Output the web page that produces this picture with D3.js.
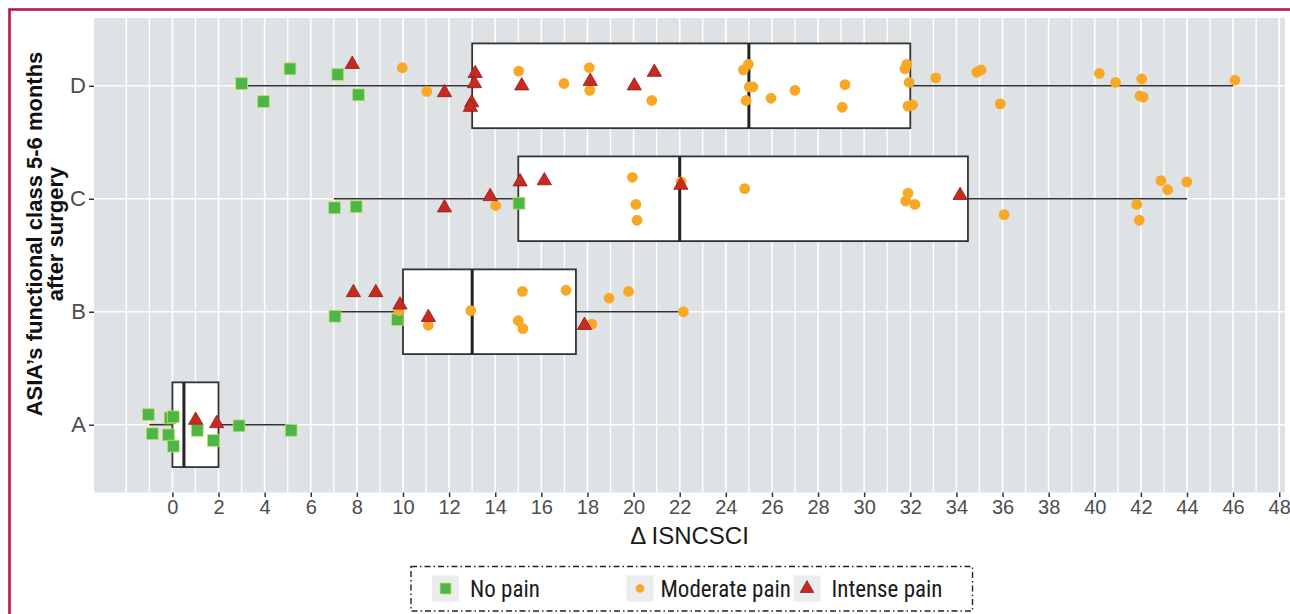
<!DOCTYPE html>
<html>
<head>
<meta charset="utf-8">
<script src="https://cdn.jsdelivr.net/npm/d3@7"></script>
<style>
  html, body { margin: 0; padding: 0; background: #fff; }
  svg { display: block; }
</style>
</head>
<body>
<script>
// categories, top to bottom
const classes = ['D', 'C', 'B', 'A'];

// box stats per class: [whiskerLo, q1, median, q3, whiskerHi]
const boxStats = {
  D: [3, 13, 25, 32, 46],
  C: [7, 15, 22, 34.5, 44],
  B: [7, 10, 13, 17.5, 22.1],
  A: [-1, 0, 0.5, 2, 5.1]
};

// points: [class, delta ISNCSCI, vertical jitter (fraction of category step)]
const noPain = [
  ['D', 3.0, -0.02], ['D', 3.95, 0.14], ['D', 5.1, -0.15], ['D', 7.17, -0.10], ['D', 8.07, 0.08],
  ['C', 7.03, 0.08], ['C', 7.97, 0.07], ['C', 15.03, 0.04],
  ['B', 7.05, 0.04], ['B', 9.76, 0.07],
  ['A', -1.04, -0.09], ['A', -0.1, -0.06], ['A', 0.04, -0.07], ['A', -0.87, 0.08], ['A', -0.17, 0.09],
  ['A', 0.04, 0.19], ['A', 1.08, 0.05], ['A', 1.78, 0.14], ['A', 2.89, 0.01], ['A', 5.15, 0.05]
];

const moderatePain = [
  ['D', 9.97, -0.16], ['D', 11.03, 0.05], ['D', 15.02, -0.13], ['D', 16.98, -0.02], ['D', 18.08, -0.16],
  ['D', 18.1, 0.04], ['D', 20.79, 0.13], ['D', 24.98, -0.19], ['D', 24.76, -0.14], ['D', 25.02, 0.01],
  ['D', 25.17, 0.01], ['D', 24.88, 0.13], ['D', 25.96, 0.11], ['D', 27.0, 0.04], ['D', 29.17, -0.01],
  ['D', 29.05, 0.19], ['D', 31.85, -0.19], ['D', 31.77, -0.15], ['D', 31.95, -0.03], ['D', 31.9, 0.18],
  ['D', 32.1, 0.17], ['D', 33.1, -0.07], ['D', 34.88, -0.12], ['D', 35.07, -0.14], ['D', 35.9, 0.16],
  ['D', 40.2, -0.11], ['D', 40.9, -0.03], ['D', 42.04, -0.06], ['D', 41.96, 0.09], ['D', 42.1, 0.10],
  ['D', 46.08, -0.05],
  ['C', 14.02, 0.06], ['C', 19.95, -0.19], ['C', 20.1, 0.05], ['C', 20.15, 0.19], ['C', 22.06, -0.15],
  ['C', 24.82, -0.09], ['C', 31.9, -0.05], ['C', 31.8, 0.02], ['C', 32.2, 0.05], ['C', 36.07, 0.14],
  ['C', 41.82, 0.05], ['C', 41.93, 0.19], ['C', 42.87, -0.16], ['C', 43.16, -0.08], ['C', 43.99, -0.15],
  ['B', 9.83, -0.01], ['B', 11.1, 0.12], ['B', 12.94, -0.01], ['B', 15.18, -0.18], ['B', 15.0, 0.08],
  ['B', 15.2, 0.15], ['B', 17.07, -0.19], ['B', 18.94, -0.12], ['B', 19.78, -0.18], ['B', 18.19, 0.11],
  ['B', 22.16, 0]
];

const intensePain = [
  ['D', 7.8, -0.19], ['D', 11.8, 0.06], ['D', 13.13, -0.11], ['D', 13.1, -0.02], ['D', 12.98, 0.15],
  ['D', 12.92, 0.19], ['D', 15.15, 0], ['D', 18.12, -0.04], ['D', 20.03, 0], ['D', 20.9, -0.12],
  ['C', 11.8, 0.08], ['C', 13.78, -0.02], ['C', 15.08, -0.15], ['C', 16.13, -0.16], ['C', 22.05, -0.12],
  ['C', 34.16, -0.03],
  ['B', 7.85, -0.17], ['B', 8.82, -0.17], ['B', 9.87, -0.06], ['B', 11.1, 0.05], ['B', 17.87, 0.12],
  ['A', 1.01, -0.04], ['A', 1.92, -0.01]
];

const xTicks = d3.range(0, 49, 2);
const xGrid = d3.range(-2, 49, 1);
const legendLabels = ['No pain', 'Moderate pain', 'Intense pain'];

const W = 1290, H = 614;
const panel = { left: 94, right: 1285, top: 18, bottom: 492.5 };
const FONT = '"Liberation Sans", Arial, sans-serif';

const svg = d3.select('body').append('svg')
  .attr('width', W)
  .attr('height', H)
  .attr('xmlns', 'http://www.w3.org/2000/svg');

// crimson frame
svg.append('rect')
  .attr('x', 9.5).attr('y', 9.5)
  .attr('width', W + 20).attr('height', H + 20)
  .attr('fill', 'none')
  .attr('stroke', '#b3174f')
  .attr('stroke-width', 2.6);

const x = d3.scaleLinear().domain([-3.4, 48.25]).range([panel.left, panel.right]);
const y = d3.scalePoint().domain(classes).range([panel.top, panel.bottom]).padding(0.6);
const step = y.step();

// panel background
svg.append('rect')
  .attr('x', panel.left).attr('y', panel.top)
  .attr('width', panel.right - panel.left)
  .attr('height', panel.bottom - panel.top)
  .attr('fill', '#dfe2e5');

// grid
svg.append('g').selectAll('line')
  .data(xGrid)
  .join('line')
  .attr('x1', d => x(d)).attr('x2', d => x(d))
  .attr('y1', panel.top).attr('y2', panel.bottom)
  .attr('stroke', '#fff')
  .attr('stroke-width', d => d % 2 === 0 ? 1.6 : 1.3);

svg.append('g').selectAll('line')
  .data(classes)
  .join('line')
  .attr('x1', panel.left).attr('x2', panel.right)
  .attr('y1', d => y(d)).attr('y2', d => y(d))
  .attr('stroke', '#fff')
  .attr('stroke-width', 1.6);

// boxplots
const boxH = step * 0.75;
const bp = svg.append('g');
classes.forEach(c => {
  const [lo, q1, med, q3, hi] = boxStats[c];
  const cy = y(c);
  bp.append('line')
    .attr('x1', x(lo)).attr('x2', x(q1)).attr('y1', cy).attr('y2', cy)
    .attr('stroke', '#333').attr('stroke-width', 1.6);
  bp.append('line')
    .attr('x1', x(q3)).attr('x2', x(hi)).attr('y1', cy).attr('y2', cy)
    .attr('stroke', '#333').attr('stroke-width', 1.6);
  bp.append('rect')
    .attr('x', x(q1)).attr('y', cy - boxH / 2)
    .attr('width', x(q3) - x(q1)).attr('height', boxH)
    .attr('fill', '#fff')
    .attr('stroke', '#333').attr('stroke-width', 1.8);
  bp.append('line')
    .attr('x1', x(med)).attr('x2', x(med))
    .attr('y1', cy - boxH / 2).attr('y2', cy + boxH / 2)
    .attr('stroke', '#222').attr('stroke-width', 3);
});

// points
const styles = [
  { data: noPain, type: d3.symbolSquare, size: 140, fill: '#4cb648', stroke: '#c8df62', sw: 0.8 },
  { data: moderatePain, type: d3.symbolCircle, size: 92, fill: '#f9a825', stroke: 'none', sw: 0 },
  { data: intensePain, type: d3.symbolTriangle, size: 88, fill: '#c62a20', stroke: '#8e1c16', sw: 0.8 }
];

styles.forEach(s => {
  svg.append('g').selectAll('path')
    .data(s.data)
    .join('path')
    .attr('d', d3.symbol().type(s.type).size(s.size))
    .attr('transform', d => `translate(${x(d[1])},${y(d[0]) + d[2] * step})`)
    .attr('fill', s.fill)
    .attr('stroke', s.stroke)
    .attr('stroke-width', s.sw);
});

// x axis
const xAxis = svg.append('g')
  .attr('transform', `translate(0,${panel.bottom})`)
  .call(d3.axisBottom(x).tickValues(xTicks).tickSize(4.5).tickPadding(3));
xAxis.select('.domain').remove();
xAxis.selectAll('line').attr('stroke', '#333').attr('stroke-width', 1.5);
xAxis.selectAll('text')
  .attr('fill', '#4d4d4d')
  .style('font-family', FONT)
  .style('font-size', '20px');

// y axis
const yAxis = svg.append('g')
  .attr('transform', `translate(${panel.left},0)`)
  .call(d3.axisLeft(y).tickSize(5).tickPadding(3));
yAxis.select('.domain').remove();
yAxis.selectAll('line').attr('stroke', '#333').attr('stroke-width', 1.5);
yAxis.selectAll('text')
  .attr('fill', '#4d4d4d')
  .style('font-family', FONT)
  .style('font-size', '22px');

// axis titles
svg.append('text')
  .attr('x', (panel.left + panel.right) / 2)
  .attr('y', 544)
  .attr('text-anchor', 'middle')
  .style('font-family', FONT)
  .style('font-size', '24px')
  .attr('fill', '#1a1a1a')
  .text('\u0394 ISNCSCI');

const yt = svg.append('text')
  .attr('transform', 'translate(0,234) rotate(-90)')
  .attr('text-anchor', 'middle')
  .style('font-family', FONT)
  .style('font-size', '22px')
  .style('font-weight', 'bold')
  .attr('fill', '#111');
yt.append('tspan').attr('x', 0).attr('y', 42).text('ASIA\u2019s functional class 5-6 months');
yt.append('tspan').attr('x', 0).attr('y', 63).text('after surgery');

// legend
const legend = svg.append('g');
legend.append('rect')
  .attr('x', 411).attr('y', 566.5)
  .attr('width', 561.5).attr('height', 44.5)
  .attr('fill', '#fff')
  .attr('stroke', '#222')
  .attr('stroke-width', 1.4)
  .attr('stroke-dasharray', '6,3,1.5,3');

const keyX = [445.5, 640, 807];
const keyShapes = [
  { type: d3.symbolSquare, size: 121, fill: '#4cb648', stroke: '#c8df62' },
  { type: d3.symbolCircle, size: 60, fill: '#f9a825', stroke: 'none' },
  { type: d3.symbolTriangle, size: 80, fill: '#c62a20', stroke: '#8e1c16' }
];
keyX.forEach((kx, i) => {
  legend.append('rect')
    .attr('x', kx - 13.5).attr('y', 575.5)
    .attr('width', 27).attr('height', 26)
    .attr('fill', '#ebecee');
  legend.append('path')
    .attr('d', d3.symbol().type(keyShapes[i].type).size(keyShapes[i].size))
    .attr('transform', `translate(${kx},588.5)`)
    .attr('fill', keyShapes[i].fill)
    .attr('stroke', keyShapes[i].stroke)
    .attr('stroke-width', 0.8);
  legend.append('text')
    .attr('x', kx + (i === 1 ? 20.5 : 24.5))
    .attr('y', 596.5)
    .style('font-family', '"Liberation Sans Narrow", "Roboto Condensed", "Liberation Sans", sans-serif')
    .style('font-size', '23px')
    .attr('fill', '#1a1a1a')
    .text(legendLabels[i]);
});
</script>
</body>
</html>
